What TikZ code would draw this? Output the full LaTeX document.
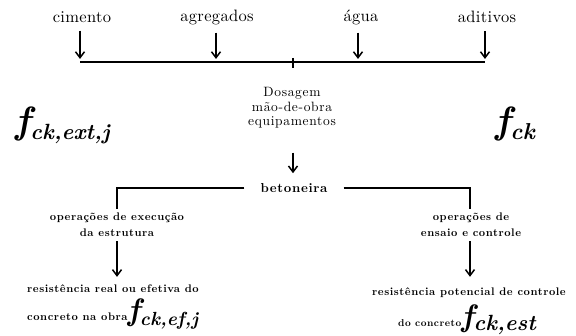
\documentclass[tikz,border=0pt]{standalone}
\usepackage{fontspec}
\usetikzlibrary{arrows.meta}
\setmainfont{lmroman10}[Extension=.otf, UprightFont=*-regular, BoldFont=*-bold, ItalicFont=*-italic, BoldItalicFont=*-bolditalic]
\newfontfamily\lsA{lmroman10}[Extension=.otf, UprightFont=*-regular, BoldFont=*-bold, LetterSpace=2]
\newfontfamily\lsB{lmroman10}[Extension=.otf, UprightFont=*-regular, BoldFont=*-bold, LetterSpace=5]
\newfontfamily\lsC{lmroman10}[Extension=.otf, UprightFont=*-regular, BoldFont=*-bold, LetterSpace=5]
\newcommand\myfck[4]{{\fontsize{#1}{#1}\selectfont\bfseries\itshape f}\raisebox{-#3}{\fontsize{#2}{#2}\selectfont\bfseries\itshape #4}}
\begin{document}
\begin{tikzpicture}[x=1pt,y=1pt,
  toplbl/.style={font=\lsA\fontsize{16.5}{18}\selectfont, inner sep=0pt},
  midlbl/.style={font=\lsB\fontsize{13.5}{14.5}\selectfont, align=center, inner sep=0pt},
  boldlbl/.style={font=\lsC\fontsize{11}{16}\selectfont\bfseries, align=center, inner sep=0pt},
  betlbl/.style={font=\lsB\fontsize{13}{15}\selectfont\bfseries, inner sep=0pt},
  bigf/.style={inner sep=0pt},
  arr/.style={line width=1.6pt, -{Straight Barb[length=6pt,width=9pt,line width=1.5pt]}},
  ln/.style={line width=1.8pt}]
\useasboundingbox (0,0) rectangle (576,336);
% top labels
\node[toplbl] (cim) at (82,319) {cimento};
\node[toplbl] (agr) at (217,319) {agregados};
\node[toplbl] (agu) at (361,319) {água};
\node[toplbl] (adi) at (487,319) {aditivos};
% line coordinates
\coordinate (p1) at (80,274);
\coordinate (p2) at (216,274);
\coordinate (p3) at (358,274);
\coordinate (p4) at (485,274);
\coordinate (tk) at (293,274);
\draw[ln] (p1) -- (p4);
\draw[line width=1.8pt] ([yshift=4pt]tk) -- ([yshift=-6pt]tk);
\draw[arr, shorten <=8pt, shorten >=3pt] (cim.south -| p1) -- (p1);
\draw[arr, shorten <=8pt, shorten >=3pt] (agr.south -| p2) -- (p2);
\draw[arr, shorten <=8pt, shorten >=3pt] (agu.south -| p3) -- (p3);
\draw[arr, shorten <=8pt, shorten >=3pt] (adi.south -| p4) -- (p4);
% middle
\node[midlbl] (dos) at (292,228) {Dosagem\\mão-de-obra\\equipamentos};
\node[betlbl] (bet) at (294,148) {betoneira};
\draw[arr, shorten <=24pt, shorten >=10pt] (dos.south -| tk) -- (bet.north -| tk);
% big f labels
\node[bigf, anchor=base west] (fext) at (15,202) {\myfck{38}{22}{6pt}{ck,ext,j}};
\node[bigf, anchor=base west] (fck) at (495,202) {\myfck{38}{23}{6pt}{ck}};
% brackets
\coordinate (lc) at (117,148);
\coordinate (rc) at (470,148);
\node[boldlbl] (opl) at (117,111) {operações de execução\\da estrutura};
\node[boldlbl] (opr) at (471,111) {operações de\\ensaio e controle};
\draw[ln] ([xshift=-16pt]bet.west) -- (lc) -- ([yshift=4pt]opl.north -| lc);
\draw[ln] ([xshift=16pt]bet.east) -- (rc) -- ([yshift=4pt]opr.north -| rc);
% bottom texts
\node[boldlbl, anchor=west] (resl) at (27,47) {resistência real ou efetiva do};
\node[bigf, anchor=base west] (fef) at (27,15) {{\lsC\fontsize{11}{12}\selectfont\bfseries concreto na obra}\myfck{31}{19}{5pt}{ck,ef,j}};
\node[boldlbl] (resr) at (469,43) {resistência potencial de controle};
\node[bigf, anchor=base west] (fest) at (398,9) {{\lsC\fontsize{10}{12}\selectfont\bfseries do concreto}\myfck{31}{22}{4pt}{ck,est}};
\draw[arr, shorten <=4pt, shorten >=8pt] (opl.south) -- (resl.north -| opl.south);
\draw[arr, shorten <=4pt, shorten >=11pt] (opr.south -| rc) -- (resr.north -| rc);
\end{tikzpicture}
\end{document}
